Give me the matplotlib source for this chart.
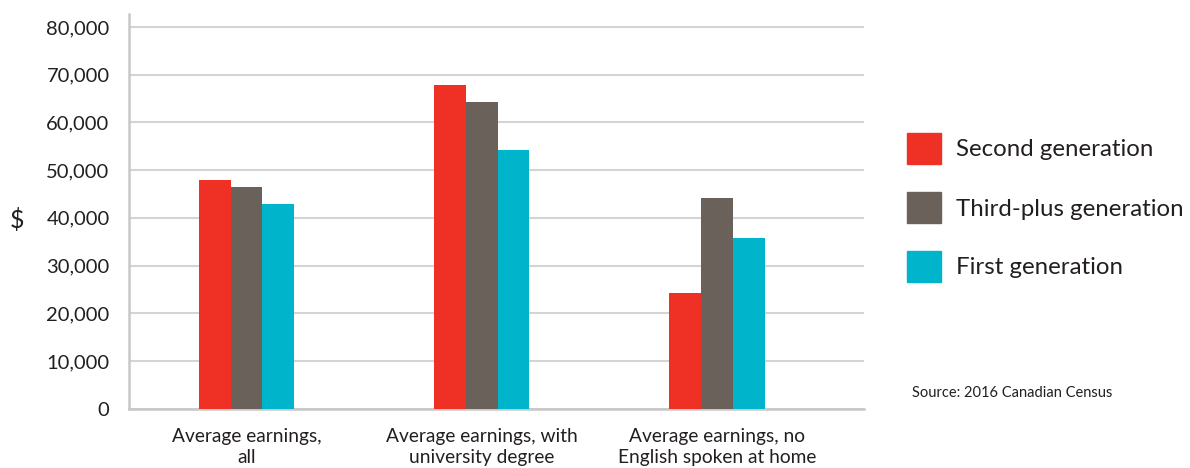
import matplotlib
matplotlib.use("Agg")
import matplotlib.pyplot as plt
from matplotlib.patches import Rectangle
import numpy as np

plt.rcParams['font.family'] = ['Lato', 'DejaVu Sans']

categories = ["Average earnings,\nall", "Average earnings, with\nuniversity degree",
              "Average earnings, no\nEnglish spoken at home"]
series_names = ["Second generation", "Third-plus generation", "First generation"]
second_gen = [47900, 67800, 24250]
third_plus_gen = [46400, 64300, 44100]
first_gen = [42900, 54200, 35750]
colors = ["#EE3124", "#6A615B", "#00B5CB"]
yticks = [0, 10000, 20000, 30000, 40000, 50000, 60000, 70000, 80000]
ytick_labels = ["0", "10,000", "20,000", "30,000", "40,000", "50,000", "60,000", "70,000", "80,000"]

W, H = 1190, 468
fig = plt.figure(figsize=(W / 100, H / 100), dpi=100)
ax = fig.add_axes([129 / W, (H - 408.7) / H, (864 - 129) / W, (408.7 - 14) / H])

x = np.arange(len(categories))
bw = 0.135
for i, (vals, c) in enumerate(zip([second_gen, third_plus_gen, first_gen], colors)):
    ax.bar(x + (i - 1) * bw, vals, width=bw, color=c, zorder=3, linewidth=0)

ax.set_xlim(-0.5, 2.625)
ax.set_ylim(0, 82700)
ax.set_yticks(yticks)
ax.set_yticklabels(ytick_labels)
ax.set_xticks(x)
ax.set_xticklabels(categories, linespacing=1.3)
ax.yaxis.grid(True, color="#D4D4D4", linewidth=1.5, zorder=0)
ax.set_axisbelow(True)
for s in ["top", "right"]:
    ax.spines[s].set_visible(False)
for s in ["left", "bottom"]:
    ax.spines[s].set_color("#C8C8C8")
    ax.spines[s].set_linewidth(1.8)
ax.tick_params(axis="y", length=0, pad=14, labelsize=14.5, labelcolor="#231F20")
ax.tick_params(axis="x", length=0, pad=14, labelsize=13.8, labelcolor="#231F20")

fig.text(17 / W, 1 - 220 / H, "$", fontsize=18, color="#231F20", ha="center", va="center")

# legend
rows_y = [148, 207, 266]
for name, c, yc in zip(series_names, colors, rows_y):
    fig.patches.append(Rectangle((907 / W, 1 - (yc + 15.5) / H), 34 / W, 31 / H,
                                 transform=fig.transFigure, color=c, figure=fig))
    fig.text(956 / W, 1 - (yc + 2) / H, name, fontsize=17.3, color="#231F20", ha="left", va="center")

fig.text(912 / W, 1 - 393 / H, "Source: 2016 Canadian Census", fontsize=10.5,
         color="#231F20", ha="left", va="center")

fig.savefig("out.png", dpi=100)
